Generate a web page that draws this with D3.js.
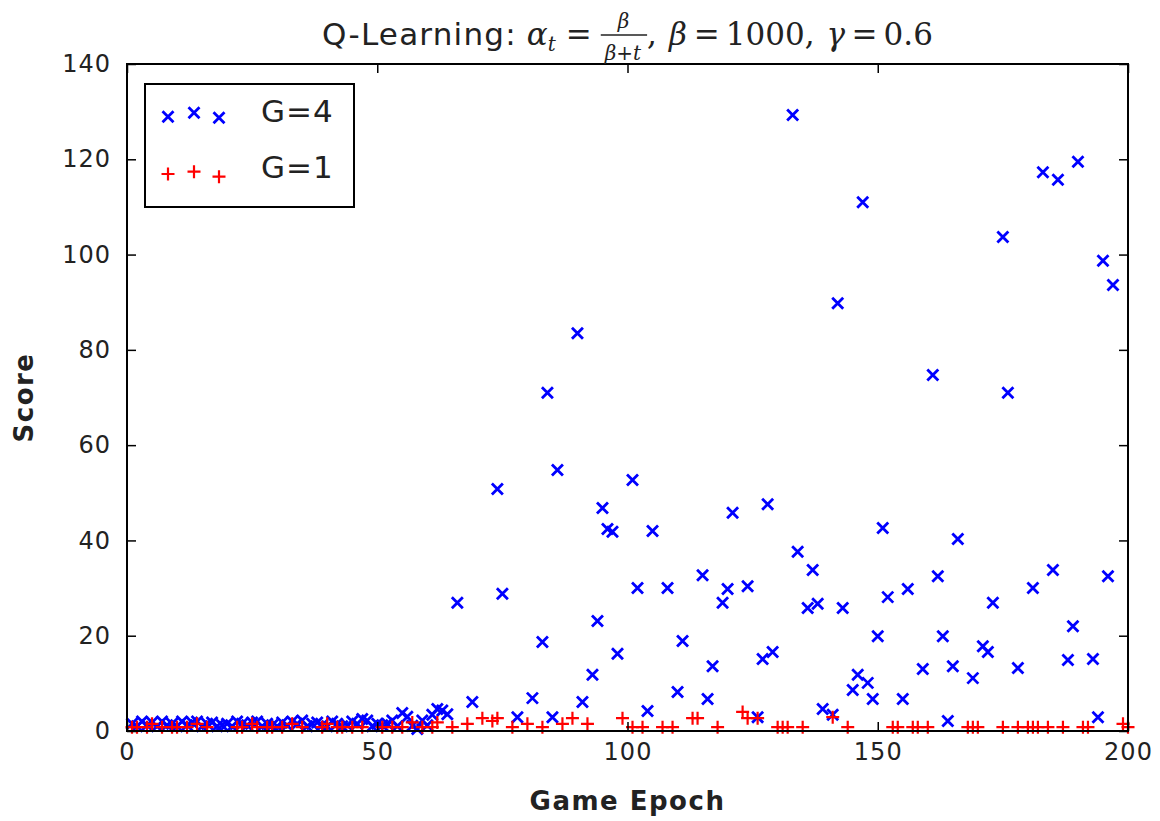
<!DOCTYPE html>
<html><head><meta charset="utf-8">
<script src="https://cdn.jsdelivr.net/npm/d3@7"></script>
<style>body{margin:0;background:#fff}</style>
</head><body>
<svg id="c" width="1160" height="821"></svg>
<script>
// ---- data ----
const g4Epochs = [1,2,3,4,5,6,7,8,9,10,11,12,13,14,15,16,17,18,19,20,21,22,23,24,25,26,27,28,29,30,31,32,33,34,35,36,37,38,39,40,41,42,43,44,45,46,47,48,49,50,51,52,53,54,55,56,57,58,59,60,61,62,63,64,
  66,69,74,75,78,81,83,84,85,86,90,91,93,94,95,96,97,98,101,102,104,105,108,110,111,115,116,117,119,120,121,124,126,127,128,129,133,134,136,137,138,139,141,142,143,145,146,147,148,149,150,151,152,155,156,159,161,162,163,164,165,166,169,171,172,173,175,176,178,181,183,185,186,188,189,190,193,194,195,196,197];
const g4Scores = [1.5,1,2,1.2,1.8,1,2,1.2,1.5,1,2,1.2,1.8,2,1,1.5,1.8,1,1.2,1.5,1,2,1.5,1.2,1.8,2,1,1.5,1.2,1,1.8,1.2,2,1.5,2.2,1,1.5,1.8,1.2,1,2,1.5,1,1.2,2,1.5,2.5,2.2,1,1.5,1.2,1.5,2.2,1,3.8,3,1.1,0.4,2.2,1.2,3.4,4.6,4.3,3.5,
  26.9,6.1,50.8,28.8,2.9,6.9,18.7,71,2.9,54.8,83.5,6.1,11.8,23.1,46.8,42.4,41.8,16.2,52.7,30,4.2,42,30,8.2,18.9,32.7,6.7,13.6,26.9,29.8,45.8,30.4,2.9,15.1,47.6,16.6,129.3,37.6,25.8,33.8,26.7,4.6,3.4,89.8,25.8,8.6,11.8,111,10.1,6.7,19.9,42.6,28.1,6.7,29.8,13,74.7,32.5,19.9,2.1,13.6,40.3,11.1,17.8,16.6,26.9,103.7,71,13.2,30,117.3,33.8,115.7,14.9,22,119.5,15.1,2.9,98.7,32.5,93.6];
const g1Epochs = [1,2,4,5,7,9,10,12,14,16,22,23,25,26,28,29,31,33,35,39,40,42,43,45,47,51,53,55,57,59,61,62,65,68,71,73,74,77,80,83,87,89,92,99,101,103,107,109,113,114,118,123,124,126,130,131,132,135,141,144,153,154,157,158,160,168,169,170,175,178,180,181,182,184,187,191,192,199,200];
const g1Scores = [0.8,0.8,0.8,1.5,0.8,0.8,0.8,0.8,1.5,0.8,0.8,0.8,1.5,0.8,0.8,0.8,0.8,1.5,0.8,0.8,1.5,0.8,0.8,0.8,0.8,0.8,0.8,0.8,1.8,0.8,0.8,1.8,0.8,1.5,2.7,2.1,2.7,0.8,1.5,0.8,1.5,2.7,1.5,2.7,0.8,0.8,0.8,0.8,2.7,2.7,0.8,4,2.7,2.7,0.8,0.8,0.8,0.8,2.9,0.8,0.8,0.8,0.8,0.8,0.8,0.8,0.8,0.8,0.8,0.8,0.8,0.8,0.8,0.8,0.8,0.8,0.8,1.5,0.8];
const xTicks = [0,50,100,150,200];
const yTicks = [0,20,40,60,80,100,120,140];
const seriesNames = ["G=4","G=1"];

// ---- layout ----
const L = 127, R = 1128, T = 64, B = 731;
const svg = d3.select("#c");
const x = d3.scaleLinear().domain([0,200]).range([L,R]);
const y = d3.scaleLinear().domain([0,140]).range([B,T]);
const sans = "'DejaVu Sans', 'Bitstream Vera Sans', sans-serif";
const serif = "'DejaVu Serif', 'Liberation Serif', serif";

const xPath = "M-5.5,-5.5L5.5,5.5M-5.5,5.5L5.5,-5.5";
const pPath = "M-6.5,0H6.5M0,-6.5V6.5";

// points
const pts = svg.append("g");
pts.selectAll("path.g4").data(g4Epochs.map((e,i)=>[e,g4Scores[i]])).join("path")
  .attr("class","g4").attr("d",xPath).attr("transform",d=>`translate(${x(d[0])},${y(d[1])})`)
  .attr("stroke","#0000ff").attr("stroke-width",2.8).attr("fill","none");
pts.selectAll("path.g1").data(g1Epochs.map((e,i)=>[e,g1Scores[i]])).join("path")
  .attr("class","g1").attr("d",pPath).attr("transform",d=>`translate(${x(d[0])},${y(d[1])})`)
  .attr("stroke","#ff0000").attr("stroke-width",2.2).attr("fill","none");

// axes
const fs = 24;
function styleAxis(g){ g.select(".domain").remove(); g.selectAll(".tick line").attr("stroke","#000").attr("stroke-width",1.5);
  g.selectAll("text").attr("font-family",sans).attr("font-size",fs).attr("letter-spacing",1).attr("fill","#222"); }
svg.append("g").attr("transform",`translate(0,${B})`)
  .call(d3.axisBottom(x).tickValues(xTicks).tickSizeInner(-9).tickSizeOuter(0).tickPadding(12).tickFormat(d3.format("d")))
  .call(styleAxis);
svg.append("g").attr("transform",`translate(0,${T})`)
  .call(d3.axisTop(x).tickValues(xTicks).tickSizeInner(-9).tickSizeOuter(0).tickFormat(""))
  .call(styleAxis);
svg.append("g").attr("transform",`translate(${L},0)`)
  .call(d3.axisLeft(y).tickValues(yTicks).tickSizeInner(-9).tickSizeOuter(0).tickPadding(16).tickFormat(d3.format("d")))
  .call(styleAxis);
svg.append("g").attr("transform",`translate(${R},0)`)
  .call(d3.axisRight(y).tickValues(yTicks).tickSizeInner(-9).tickSizeOuter(0).tickFormat(""))
  .call(styleAxis);
svg.append("rect").attr("x",L).attr("y",T).attr("width",R-L).attr("height",B-T)
  .attr("fill","none").attr("stroke","#000").attr("stroke-width",2);

// axis labels
svg.append("text").attr("x",(L+R)/2).attr("y",810).attr("text-anchor","middle")
  .attr("font-family",sans).attr("font-size",26).attr("letter-spacing",1.5).attr("font-weight","bold").attr("fill","#222").text("Game Epoch");
svg.append("text").attr("transform",`translate(33,${(T+B)/2}) rotate(-90)`).attr("text-anchor","middle")
  .attr("font-family",sans).attr("font-size",26).attr("letter-spacing",1.5).attr("font-weight","bold").attr("fill","#222").text("Score");

// title with math
const tg = svg.append("g");
let cx = 0; const base = 45;
function piece(txt, fam, size, style, dy, adv=true, ls=0){
  const t = tg.append("text").attr("x",cx).attr("y",base+(dy||0)).attr("font-family",fam)
    .attr("font-size",size).attr("font-style",style||"normal").attr("letter-spacing",ls).attr("fill","#222").text(txt);
  const w = t.node().getBBox().width; if(adv) cx += w; return {t,w};
}
piece("Q-Learning:", sans, 31, "normal", 0, true, 1.2); cx += 10;
piece("α", serif, 31, "italic");
piece("t", serif, 20, "italic", 6); cx += 9;
piece("=", serif, 31); cx += 9;
// fraction
{
  const x0 = cx;
  const den = piece("β+t", serif, 20, "italic", 15, false);
  const num = piece("β", serif, 20, "italic", -17, false);
  const fw = den.w + 8;
  den.t.attr("x", x0 + 4);
  num.t.attr("x", x0 + (fw - num.w)/2);
  tg.append("line").attr("x1",x0).attr("x2",x0+fw).attr("y1",base-10).attr("y2",base-10).attr("stroke","#222").attr("stroke-width",1.5);
  cx = x0 + fw;
}
piece(",", serif, 31); cx += 12;
piece("β", serif, 31, "italic"); cx += 6;
piece("=", serif, 31); cx += 6;
piece("1000,", serif, 31); cx += 12;
piece("γ", serif, 31, "italic"); cx += 6;
piece("=", serif, 31); cx += 6;
piece("0.6", serif, 31);
tg.attr("transform",`translate(${(L+R)/2 - cx/2},0)`);

// legend
const lg = svg.append("g");
lg.append("rect").attr("x",145).attr("y",84).attr("width",209).attr("height",123)
  .attr("fill","#fff").attr("stroke","#000").attr("stroke-width",2);
const lx = [168,194,219];
const lyB = [116.7,112.7,117.7], lyR = [174,171.7,176.7];
lx.forEach((px,i)=>{
  lg.append("path").attr("d",xPath).attr("transform",`translate(${px},${lyB[i]})`).attr("stroke","#0000ff").attr("stroke-width",2.8).attr("fill","none");
  lg.append("path").attr("d",pPath).attr("transform",`translate(${px},${lyR[i]})`).attr("stroke","#ff0000").attr("stroke-width",2.2).attr("fill","none");
});
lg.append("text").attr("x",261).attr("y",122).attr("font-family",sans).attr("font-size",31).attr("letter-spacing",1).attr("fill","#222").text(seriesNames[0]);
lg.append("text").attr("x",261).attr("y",178).attr("font-family",sans).attr("font-size",31).attr("letter-spacing",1).attr("fill","#222").text(seriesNames[1]);
</script>
</body></html>
